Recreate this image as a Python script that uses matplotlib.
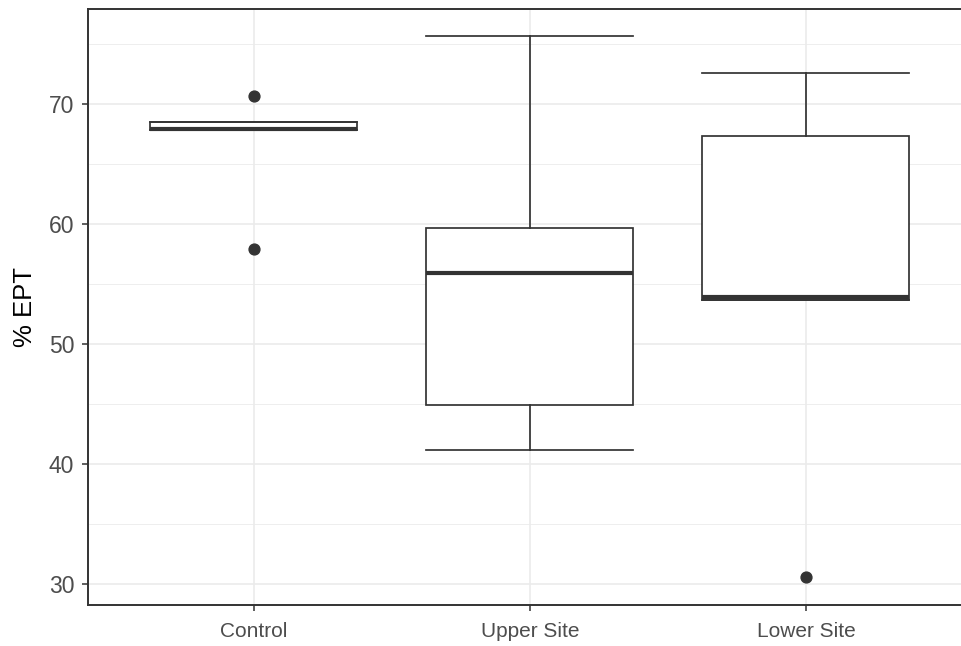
import matplotlib
matplotlib.use("Agg")
import matplotlib.pyplot as plt
from matplotlib.ticker import MultipleLocator

categories = ["Control", "Upper Site", "Lower Site"]
q1 = [67.8, 44.9, 53.7]
med = [67.9, 55.9, 53.9]
q3 = [68.5, 59.7, 67.3]
whislo = [67.8, 41.2, 53.7]
whishi = [68.5, 75.7, 72.6]
fliers = [[70.7, 57.9], [], [30.6]]
y_label = "% EPT"

plt.rcParams['font.family'] = ['Liberation Sans', 'DejaVu Sans']

fig = plt.figure(figsize=(9.62, 6.46), dpi=100)
W, H = 962, 646
left, right, top, bottom = 88, 971.6, 8.5, 605
ax = fig.add_axes([left / W, (H - bottom) / H, (right - left) / W, (bottom - top) / H])

stats = []
for i, c in enumerate(categories):
    stats.append(dict(label=c, q1=q1[i], med=med[i], q3=q3[i],
                      whislo=whislo[i], whishi=whishi[i], fliers=fliers[i]))

dark = "#333333"
ax.bxp(stats, positions=[1, 2, 3], widths=0.75, capwidths=0.75,
       showfliers=True, patch_artist=True,
       boxprops=dict(facecolor="white", edgecolor=dark, linewidth=1.25),
       medianprops=dict(color=dark, linewidth=3.0),
       whiskerprops=dict(color=dark, linewidth=1.25),
       capprops=dict(color=dark, linewidth=1.25),
       flierprops=dict(marker="o", markerfacecolor=dark, markeredgecolor=dark,
                       markersize=7.8, linestyle="none"),
       zorder=3)

ax.set_xlim(0.4, 3.6)
ax.set_ylim(28.25, 77.96)
ax.set_xticks([1, 2, 3])
ax.set_xticklabels(categories)
ax.yaxis.set_major_locator(MultipleLocator(10))
ax.yaxis.set_minor_locator(MultipleLocator(5))
ax.grid(True, which="major", color="#EBEBEB", linewidth=1.2, zorder=0)
ax.grid(True, which="minor", axis="y", color="#EBEBEB", linewidth=0.6, zorder=0)
ax.set_axisbelow(True)
for s in ax.spines.values():
    s.set_color(dark)
    s.set_linewidth(1.4)
ax.tick_params(axis="both", which="major", color=dark, length=4.5, width=1.1,
               labelcolor="#4D4D4D")
ax.tick_params(axis="y", which="major", labelsize=16.5, pad=5.5)
ax.tick_params(axis="x", which="major", labelsize=15, pad=7.5)
ax.tick_params(axis="y", which="minor", length=0)
ax.set_ylabel(y_label, fontsize=18.5, color="black", labelpad=8)

fig.savefig("out.png", dpi=100)
